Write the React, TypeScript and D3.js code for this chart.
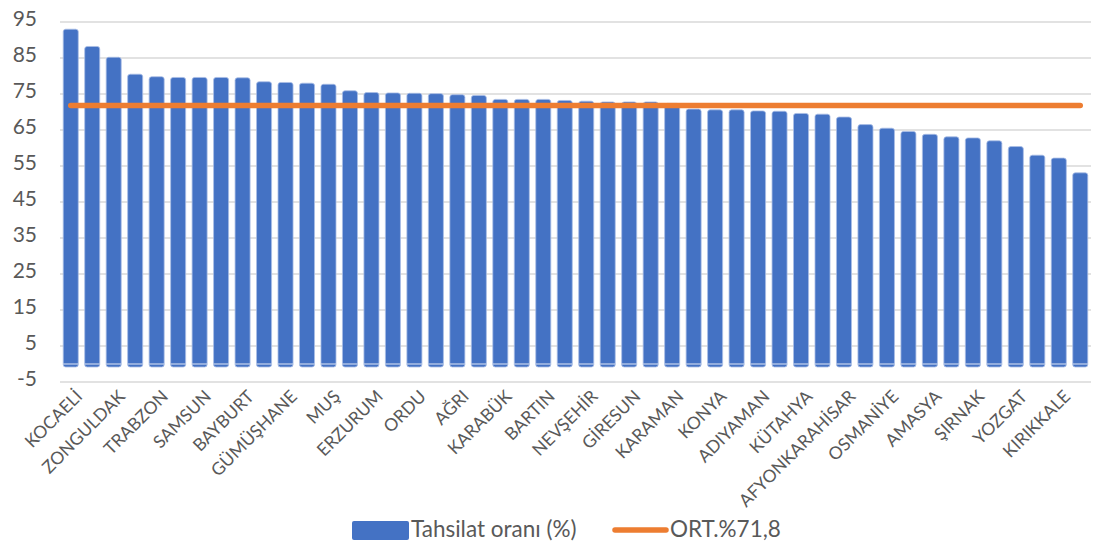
import React, { useEffect, useRef } from "react";
import * as d3 from "d3";

const W = 1094;
const H = 545;

// 48 provinces; only every other name is printed on the axis
const axisLabels: string[] = [
  "KOCAELİ", "", "ZONGULDAK", "", "TRABZON", "", "SAMSUN", "", "BAYBURT", "",
  "GÜMÜŞHANE", "", "MUŞ", "", "ERZURUM", "", "ORDU", "", "AĞRI", "",
  "KARABÜK", "", "BARTIN", "", "NEVŞEHİR", "", "GİRESUN", "", "KARAMAN", "",
  "KONYA", "", "ADIYAMAN", "", "KÜTAHYA", "", "AFYONKARAHİSAR", "", "OSMANİYE", "",
  "AMASYA", "", "ŞIRNAK", "", "YOZGAT", "", "KIRIKKALE", "",
];

const tahsilat: number[] = [
  93.0, 88.2, 85.2, 80.5, 79.8, 79.6, 79.6, 79.6, 79.5, 78.4,
  78.2, 78.0, 77.7, 75.9, 75.4, 75.3, 75.2, 75.1, 74.8, 74.6,
  73.5, 73.5, 73.5, 73.2, 73.0, 72.8, 72.8, 72.8, 72.4, 70.8,
  70.6, 70.6, 70.3, 70.2, 69.6, 69.4, 68.6, 66.5, 65.5, 64.6,
  63.8, 63.1, 62.8, 62.0, 60.4, 58.0, 57.2, 53.1,
];

const ortalama = 71.8;
const yTicks: number[] = [95, 85, 75, 65, 55, 45, 35, 25, 15, 5, -5];
const seriesNames: string[] = ["Tahsilat oranı (%)", "ORT.%71,8"];

const BLUE = "#4472C4";
const ORANGE = "#ED7D31";
const GRID = "#D9D9D9";
const TEXT = "#595959";
const FONT = "Lato, 'Open Sans', sans-serif";

export default function App() {
  const ref = useRef<SVGSVGElement>(null);

  useEffect(() => {
    const svg = d3.select(ref.current);
    svg.selectAll("*").remove();

    const left = 60, right = 1091, top = 22, bottom = 382;
    const idx = tahsilat.map((_, i) => i);
    const x = d3.scaleBand<number>().domain(idx).range([left, right]).paddingInner(0.3).paddingOuter(0.15);
    const y = d3.scaleLinear().domain([-5, 95]).range([bottom, top]);

    // gridlines
    svg.append("g")
      .selectAll("line")
      .data(yTicks)
      .join("line")
      .attr("x1", left).attr("x2", right)
      .attr("y1", (d) => y(d)).attr("y2", (d) => y(d))
      .attr("stroke", GRID).attr("stroke-width", 1.5);

    // y tick labels
    svg.append("g")
      .selectAll("text")
      .data(yTicks)
      .join("text")
      .attr("x", 37).attr("y", (d) => y(d) - 1)
      .attr("text-anchor", "end").attr("dominant-baseline", "middle")
      .attr("font-family", FONT).attr("font-size", 21).attr("fill", TEXT)
      .text((d) => String(d));

    // bars
    const bw = x.bandwidth();
    const g = svg.append("g");
    g.selectAll("rect.bar")
      .data(tahsilat)
      .join("rect")
      .attr("class", "bar")
      .attr("x", (_, i) => x(i)!)
      .attr("width", bw)
      .attr("y", (d) => y(d))
      .attr("height", (d) => y(0) - y(d) + 3)
      .attr("rx", 2.5)
      .attr("fill", BLUE)
      .attr("stroke", "#A9BEE6").attr("stroke-width", 0.8);
    g.selectAll("line.base")
      .data(tahsilat)
      .join("line")
      .attr("class", "base")
      .attr("x1", (_, i) => x(i)!).attr("x2", (_, i) => x(i)! + bw)
      .attr("y1", y(0)).attr("y2", y(0))
      .attr("stroke", "#C9D6EF").attr("stroke-width", 1.2);

    // average line
    const line = d3.line<number>()
      .x((_, i) => x(i)! + bw / 2)
      .y((d) => y(d));
    svg.append("path")
      .datum(tahsilat.map(() => ortalama))
      .attr("d", line)
      .attr("fill", "none")
      .attr("stroke", ORANGE).attr("stroke-width", 5.5).attr("stroke-linecap", "round");

    // x labels
    svg.append("g")
      .selectAll("text")
      .data(axisLabels)
      .join("text")
      .attr("transform", (_, i) => `translate(${x(i)! + bw / 2 + 3},${bottom + 6}) rotate(-45)`)
      .attr("text-anchor", "end").attr("dominant-baseline", "hanging")
      .attr("font-family", FONT).attr("font-size", 17.5).attr("fill", TEXT)
      .text((d) => d);

    // legend
    const lg = svg.append("g");
    lg.append("rect").attr("x", 352).attr("y", 521).attr("width", 57).attr("height", 19).attr("rx", 2).attr("fill", BLUE);
    lg.append("text").attr("x", 411).attr("y", 531).attr("dominant-baseline", "middle")
      .attr("font-family", FONT).attr("font-size", 22.5).attr("fill", TEXT).text(seriesNames[0]);
    lg.append("line").attr("x1", 615).attr("x2", 666).attr("y1", 530).attr("y2", 530)
      .attr("stroke", ORANGE).attr("stroke-width", 5.5).attr("stroke-linecap", "round");
    lg.append("text").attr("x", 670).attr("y", 531).attr("dominant-baseline", "middle")
      .attr("font-family", FONT).attr("font-size", 22.5).attr("fill", TEXT).text(seriesNames[1]);
  }, []);

  return (
    <svg
      ref={ref}
      width={W}
      height={H}
      style={{ position: "absolute", left: 0, top: 0, background: "#fff" }}
    />
  );
}
